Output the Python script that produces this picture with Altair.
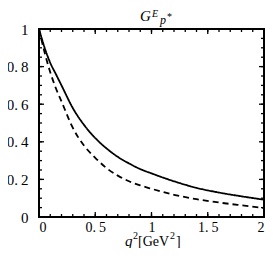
import altair as alt
import pandas as pd
import numpy as np

# data
q2 = [0, 0.05, 0.1, 0.15, 0.2, 0.3, 0.4, 0.5, 0.6, 0.7, 0.8, 0.9, 1.0, 1.2, 1.4, 1.6, 1.8, 2.0]
solid = [1.0, 0.90, 0.82, 0.76, 0.70, 0.58, 0.49, 0.42, 0.365, 0.32, 0.285, 0.255, 0.232, 0.19, 0.155, 0.13, 0.11, 0.092]
dashed = [1.0, 0.875, 0.77, 0.685, 0.615, 0.475, 0.38, 0.315, 0.26, 0.22, 0.19, 0.168, 0.150, 0.118, 0.095, 0.077, 0.062, 0.048]

x_labels = [0, 0.5, 1, 1.5, 2]
y_labels = [0, 0.2, 0.4, 0.6, 0.8, 1]
x_minor = [round(v, 2) for v in np.arange(0, 2.0001, 0.1)]
y_minor = [round(v, 2) for v in np.arange(0, 1.0001, 0.05)]

W, H = 225, 188
FONT = "Liberation Serif"
LBL = "replace(format(datum.value, '~g'), '.', '.\u2009')"

df = pd.DataFrame({"q": q2 * 2, "G": solid + dashed,
                   "s": ["solid"] * len(q2) + ["dashed"] * len(q2)})

xs = alt.Scale(domain=[0, 2], nice=False, zero=False)
ys = alt.Scale(domain=[0, 1], nice=False, zero=False)
xaxis = alt.Axis(values=x_labels, ticks=False, domain=False, grid=False,
                 labelFont=FONT, labelFontSize=14, labelColor="black",
                 labelPadding=3, labelExpr=LBL)
yaxis = alt.Axis(values=y_labels, ticks=False, domain=False, grid=False,
                 labelFont=FONT, labelFontSize=15, labelColor="black",
                 labelPadding=11, labelExpr=LBL)

lines = alt.Chart(df).mark_line(color="black", strokeWidth=1.8, interpolate="monotone").encode(
    x=alt.X("q:Q", scale=xs, title=None, axis=xaxis),
    y=alt.Y("G:Q", scale=ys, title=None, axis=yaxis),
    strokeDash=alt.StrokeDash("s:N", scale=alt.Scale(domain=["solid", "dashed"],
                                                     range=[[1, 0], [6, 4]]), legend=None),
    detail="s:N",
)

xt = pd.DataFrame({"t": x_minor})
yt = pd.DataFrame({"t": y_minor})
xtm = pd.DataFrame({"t": x_labels})
ytm = pd.DataFrame({"t": y_labels})

def xticks(d, L):
    b = alt.Chart(d).mark_rule(color="black", strokeWidth=1.3)
    return [b.encode(x=alt.X("t:Q", scale=xs, title=None, axis=xaxis), y=alt.value(H), y2=alt.value(H - L)),
            b.encode(x=alt.X("t:Q", scale=xs, title=None, axis=xaxis), y=alt.value(0), y2=alt.value(L))]

def yticks(d, L):
    b = alt.Chart(d).mark_rule(color="black", strokeWidth=1.3)
    return [b.encode(y=alt.Y("t:Q", scale=ys, title=None, axis=yaxis), x=alt.value(0), x2=alt.value(L)),
            b.encode(y=alt.Y("t:Q", scale=ys, title=None, axis=yaxis), x=alt.value(W), x2=alt.value(W - L))]

one = alt.Data(values=[{"a": 1}])

def txt(s, x, y, size, italic=False, align="left"):
    return alt.Chart(one).mark_text(
        text=s, font=FONT, fontSize=size, fontStyle="italic" if italic else "normal",
        align=align, baseline="alphabetic", color="black").encode(
        x=alt.value(x), y=alt.value(y))

texts = [
    txt("G", 101, -8, 15, True),
    txt("E", 113, -12, 10, True),
    txt("p", 121, -5, 12, True),
    txt("*", 128, -9, 10, False),
    txt("q", 86, H + 29, 15, True),
    txt("2", 94, H + 22, 10),
    txt("[GeV", 99, H + 29, 14),
    txt("2", 131, H + 22, 10),
    txt("]", 137, H + 29, 14),
]

layers = [lines] + xticks(xt, 3) + xticks(xtm, 5) + yticks(yt, 3) + yticks(ytm, 5) + texts

chart = alt.layer(*layers).properties(
    width=W, height=H,
    autosize=alt.AutoSizeParams(type="none"),
    padding={"left": 31, "top": 21, "right": 1, "bottom": 31},
    background="white",
).configure_view(stroke="black", strokeWidth=2)

chart.save("out.html", embed_options={"renderer": "svg", "actions": False})
